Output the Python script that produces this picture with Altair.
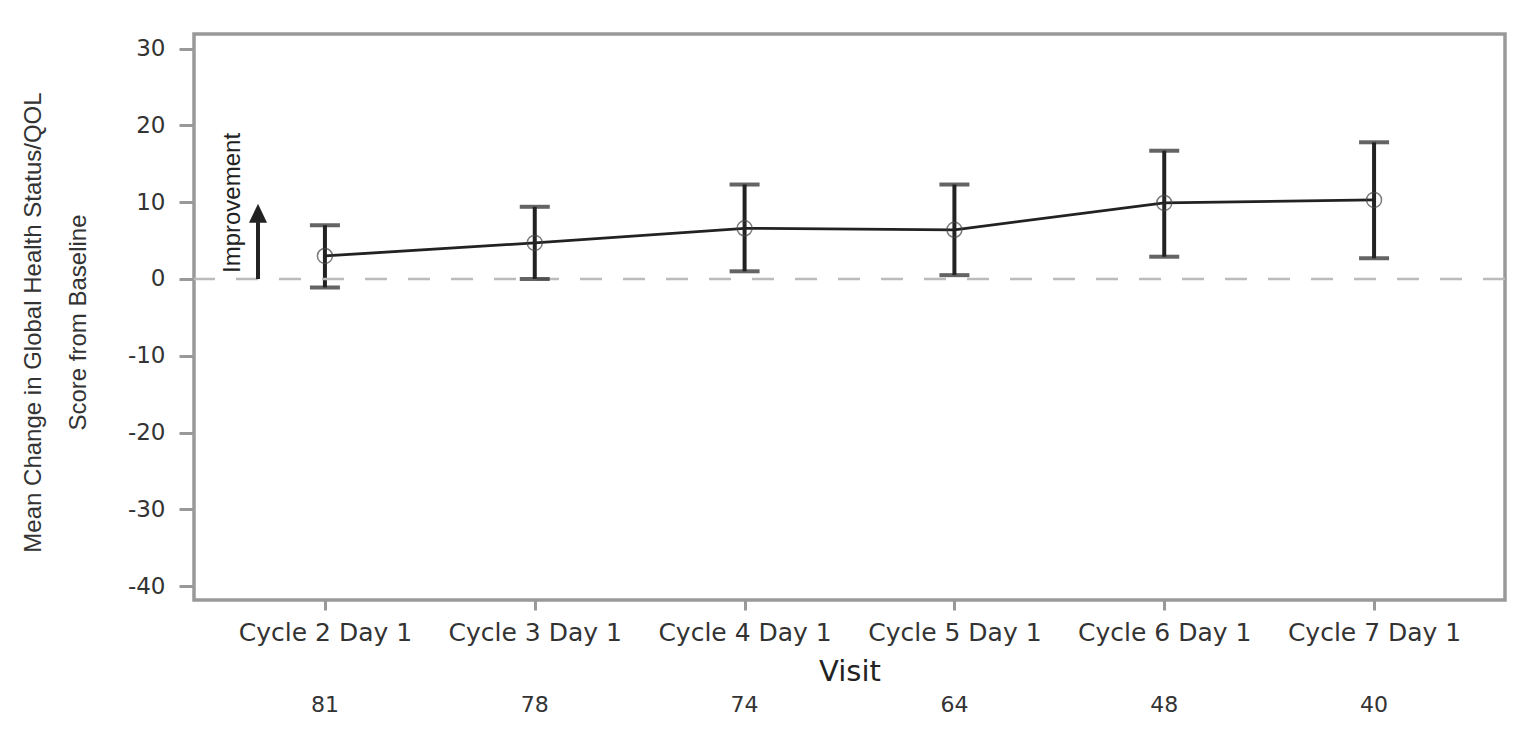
import altair as alt
import pandas as pd

visits = ["Cycle 2 Day 1", "Cycle 3 Day 1", "Cycle 4 Day 1",
          "Cycle 5 Day 1", "Cycle 6 Day 1", "Cycle 7 Day 1"]
means = [3.0, 4.7, 6.6, 6.4, 9.9, 10.3]
lower = [-1.1, 0.0, 1.0, 0.5, 2.9, 2.7]
upper = [7.0, 9.4, 12.3, 12.3, 16.7, 17.8]
counts = [81, 78, 74, 64, 48, 40]
y_ticks = [-40, -30, -20, -10, 0, 10, 20, 30]
y_title = ["Mean Change in Global Health Status/QOL", "Score from Baseline"]
x_title = "Visit"
arrow_label = "Improvement"
arrow_from = 0.0
arrow_tip = 9.8
arrow_base = 7.4
arrow_text_center = 9.9

df = pd.DataFrame({"visit": visits, "mean": means, "lower": lower,
                   "upper": upper, "n": [str(c) for c in counts]})

W, H = 1311, 566
DOMAIN = [-41.8, 31.9]
TXT = "#333333"
GRID = "#999999"
INK = "#222222"

xscale = alt.Scale(type="point", padding=0.624)
yscale = alt.Scale(domain=DOMAIN, nice=False, zero=False)

x_axis = alt.Axis(
    title=x_title, labelFont="DejaVu Sans", labelFontSize=25, labelColor=TXT,
    labelAngle=0, labelBaseline="alphabetic", labelPadding=30,
    tickSize=10, tickWidth=3, tickColor=GRID, domain=False, grid=False,
    titleFont="DejaVu Sans", titleFontSize=29, titleFontWeight="normal",
    titleColor="#222222", titleBaseline="alphabetic", titleY=80, titleX=W / 2,
    titleAlign="center",
)
y_axis = alt.Axis(
    title=y_title, values=y_ticks, labelExpr="datum.value + ''",
    labelFont="DejaVu Sans", labelFontSize=23,
    labelColor=TXT, labelPadding=14, tickSize=15, tickWidth=3, tickColor=GRID,
    domain=False, grid=False,
    titleFont="Liberation Sans", titleFontSize=24, titleFontWeight="normal",
    titleColor=TXT, titleAngle=270, titleBaseline="alphabetic",
    titleAlign="center", titleX=-154, titleY=288, titleLineHeight=45,
)


def X():
    return alt.X("visit:N", sort=visits, scale=xscale, axis=x_axis)


def Y(field):
    return alt.Y(field, scale=yscale, axis=y_axis)


base = alt.Chart(df)

bars = base.mark_rule(color=INK, strokeWidth=4).encode(
    x=X(), y=Y("lower:Q"), y2="upper:Q",
)
cap_lo = base.mark_tick(color=INK, size=30, thickness=4).encode(
    x=X(), y=Y("lower:Q"),
)
cap_hi = base.mark_tick(color=INK, size=30, thickness=4).encode(
    x=X(), y=Y("upper:Q"),
)
line = base.mark_line(color=INK, strokeWidth=2.8).encode(
    x=X(), y=Y("mean:Q"),
)
pts = base.mark_point(shape="circle", filled=False, size=225,
                      color="#444444", strokeWidth=1.5).encode(
    x=X(), y=Y("mean:Q"),
)
ns = base.mark_text(font="DejaVu Sans", fontSize=22, color=TXT,
                    baseline="alphabetic", align="center").encode(
    x=X(), y=alt.value(H + 112), text="n:N",
)

zero_df = pd.DataFrame({"y": [0.0]})
zero = alt.Chart(zero_df).mark_rule(color="#bbbbbb", strokeWidth=2.5,
                                    strokeDash=[22, 21]).encode(
    y=Y("y:Q"),
)

arrow_df = pd.DataFrame({"y0": [arrow_from], "y1": [arrow_base],
                         "tip": [arrow_tip], "tc": [arrow_text_center],
                         "label": [arrow_label]})
shaft = alt.Chart(arrow_df).mark_rule(color=INK, strokeWidth=4).encode(
    x=alt.value(64), y=Y("y0:Q"), y2="y1:Q",
)
head = alt.Chart(arrow_df).mark_point(
    shape="M0,0L0.95,2L-0.95,2Z", filled=True, size=361, color=INK,
    opacity=1, strokeWidth=0).encode(
    x=alt.value(64), y=Y("tip:Q"),
)
atext = alt.Chart(arrow_df).mark_text(
    font="Liberation Sans", fontSize=24, color=INK, angle=270,
    baseline="alphabetic", align="center").encode(
    x=alt.value(46), y=Y("tc:Q"), text="label:N",
)

chart = alt.layer(bars, zero, line, cap_lo, cap_hi, pts, ns, shaft, head, atext).properties(
    width=W, height=H,
    background="white",
    autosize=alt.AutoSizeParams(type="none"),
    padding={"left": 186, "top": 26, "right": 17, "bottom": 130},
).configure_view(stroke=GRID, strokeWidth=3.5)

chart.save("out.html", embed_options={"renderer": "svg", "actions": False})
